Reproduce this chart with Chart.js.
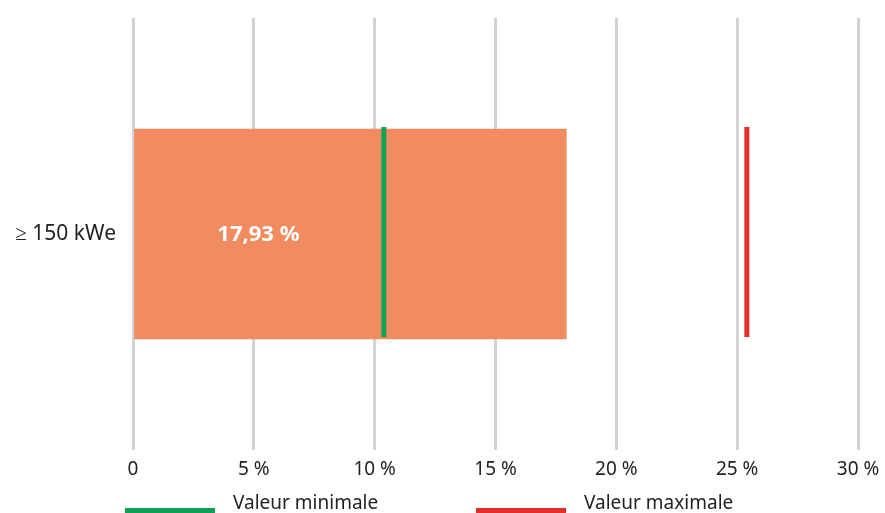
<!DOCTYPE html>
<html>
<head>
<meta charset="utf-8">
<script src="https://cdn.jsdelivr.net/npm/chart.js@4/dist/chart.umd.min.js"></script>
<style>
  html, body { margin: 0; padding: 0; background: #fff; }
  #wrap { position: relative; width: 885px; height: 513px; overflow: hidden; }
  #legend { position: absolute; left: 0; top: 489px; width: 885px; height: 30px;
    font-family: "Noto Sans", sans-serif; font-size: 19px; color: #222; }
  .item { position: absolute; top: 0; }
  .swatch { position: absolute; top: 19px; width: 90px; height: 5px; }
  .txt { position: absolute; top: 0; white-space: nowrap; }
</style>
</head>
<body>
<div id="wrap">
  <canvas id="chart" width="885" height="513"></canvas>
  <div id="legend"></div>
</div>
<script>
const categories = ["≥ 150 kWe"];
const values = [17.93];
const minValues = [10.38];
const maxValues = [25.4];
const tickValues = [0, 5, 10, 15, 20, 25, 30];
const legendLabels = ["Valeur minimale", "Valeur maximale"];

const barColor = "#F08C60";
const minColor = "#0FA055";
const maxColor = "#E1302A";

function fmt(v) {
  return v.toFixed(2).replace(".", ",") + " %";
}

// min / max markers + value label
const markers = {
  id: "markers",
  afterDatasetsDraw(chart) {
    const ctx = chart.ctx;
    const x = chart.scales.x;
    const meta = chart.getDatasetMeta(0);
    meta.data.forEach((bar, i) => {
      const top = bar.y - bar.height / 2 - 2;
      const bottom = bar.y + bar.height / 2 - 2;
      ctx.save();
      ctx.lineWidth = 5;
      ctx.strokeStyle = minColor;
      ctx.beginPath();
      ctx.moveTo(x.getPixelForValue(minValues[i]), top);
      ctx.lineTo(x.getPixelForValue(minValues[i]), bottom);
      ctx.stroke();
      ctx.strokeStyle = maxColor;
      ctx.beginPath();
      ctx.moveTo(x.getPixelForValue(maxValues[i]), top);
      ctx.lineTo(x.getPixelForValue(maxValues[i]), bottom);
      ctx.stroke();
      // label centred between 0 and the min value
      const lx = (x.getPixelForValue(0) + x.getPixelForValue(minValues[i])) / 2;
      ctx.fillStyle = "#fff";
      ctx.font = "bold 22px 'Noto Sans', sans-serif";
      ctx.textAlign = "center";
      ctx.textBaseline = "middle";
      ctx.fillText(fmt(values[i]), lx, bar.y + 1);
      ctx.restore();
    });
  }
};

new Chart(document.getElementById("chart"), {
  type: "bar",
  data: {
    labels: categories,
    datasets: [{
      data: values,
      backgroundColor: barColor,
      barThickness: 210
    }]
  },
  plugins: [markers],
  options: {
    indexAxis: "y",
    responsive: false,
    animation: false,
    layout: { padding: { top: 18, right: 27, left: 0, bottom: 0 } },
    plugins: { legend: { display: false }, tooltip: { enabled: false } },
    scales: {
      x: {
        min: 0,
        max: 30,
        afterBuildTicks(scale) { scale.ticks = tickValues.map(v => ({ value: v })); },
        afterFit(scale) {
          scale.height = 63;
          scale.paddingLeft = 0;
          scale.paddingRight = 0;
        },
        border: { display: false },
        grid: { color: "#D3D3D3", lineWidth: 3, drawTicks: false },
        ticks: {
          padding: 8,
          color: "#222",
          font: { family: "Noto Sans", size: 19 },
          callback: v => v === 0 ? "0" : v + " %"
        }
      },
      y: {
        afterFit(scale) {
          scale.width = 133;
          scale.paddingTop = 0;
          scale.paddingBottom = 0;
        },
        border: { display: false },
        grid: { display: false },
        ticks: {
          padding: 9,
          color: "#222",
          font: { family: "Noto Sans", size: 21 }
        }
      }
    }
  }
});

// legend
const legendColors = [minColor, maxColor];
const legendX = [125, 476];
const legend = document.getElementById("legend");
legendLabels.forEach((label, i) => {
  const item = document.createElement("div");
  item.className = "item";
  item.style.left = legendX[i] + "px";
  item.innerHTML = '<div class="swatch" style="background:' + legendColors[i] + '"></div>' +
    '<div class="txt" style="left:108px">' + label + '</div>';
  legend.appendChild(item);
});
</script>
</body>
</html>
